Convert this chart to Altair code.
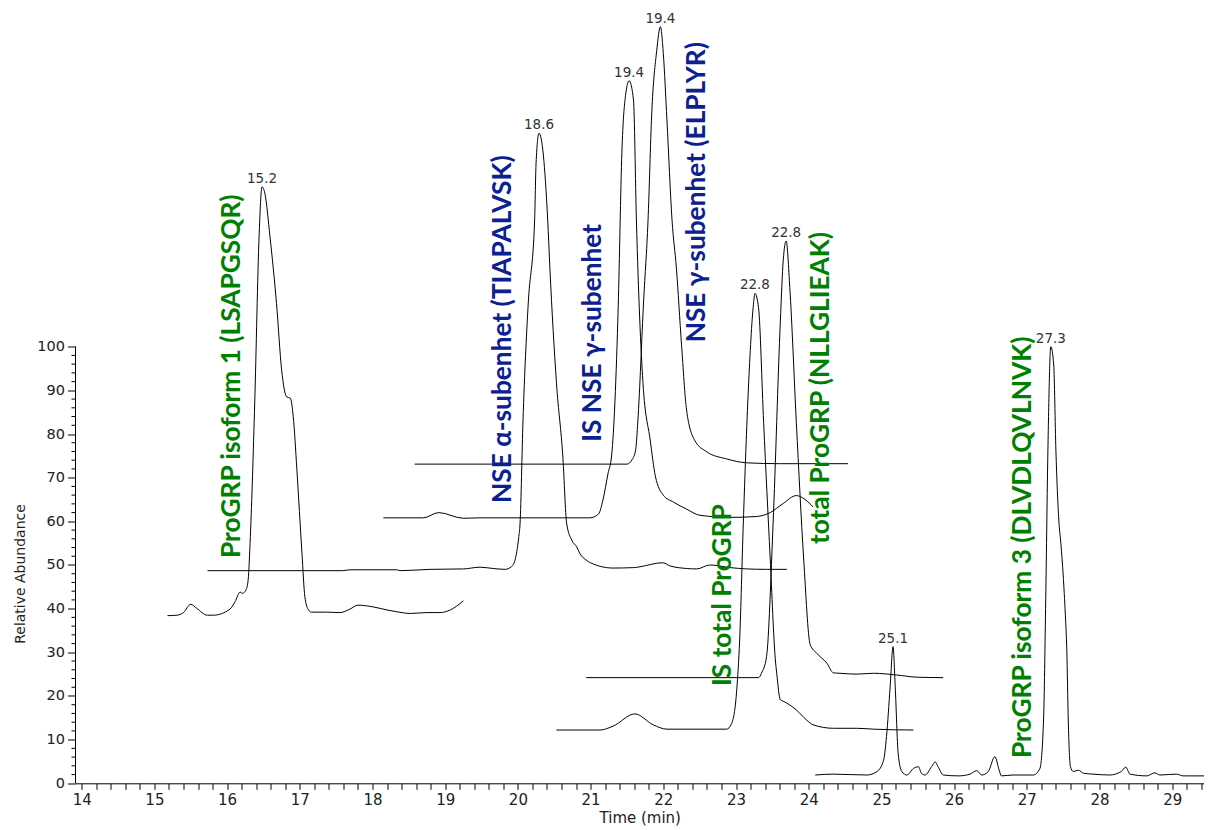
import altair as alt
import pandas as pd

# ---- trace data (time in min, relative abundance as displayed) ----
a_t = [15.18, 15.31, 15.40, 15.50, 15.58, 15.73, 15.81, 16.04, 16.11, 16.18, 16.21, 16.26, 16.29, 16.32,
       16.38, 16.44, 16.48, 16.52, 16.59, 16.68, 16.75, 16.82, 16.87, 16.91, 16.96, 17.03, 17.07, 17.12,
       17.16, 17.37, 17.55, 17.69, 17.80, 18.01, 18.20, 18.33, 18.52, 18.75, 18.93, 19.07, 19.25]
a_v = [38.4, 38.5, 39.1, 41.0, 40.1, 38.5, 38.5, 39.9, 41.6, 43.8, 43.5, 44.3, 46.6, 56.5,
       87.1, 125.2, 136.6, 135.1, 125.2, 109.9, 94.7, 88.5, 88.2, 84.0, 71.8, 52.7, 42.7, 39.7,
       39.2, 39.2, 39.1, 39.9, 40.8, 40.4, 39.7, 39.3, 38.9, 39.1, 39.1, 39.7, 41.8]

b_t = [15.73, 17.59, 17.69, 18.33, 18.38, 18.79, 19.25, 19.48, 19.66, 19.82, 19.91, 19.96, 20.01, 20.03,
       20.07, 20.14, 20.23, 20.25, 20.29, 20.35, 20.41, 20.44, 20.53, 20.62, 20.67, 20.74, 20.81, 20.85,
       20.95, 21.04, 21.13, 21.31, 21.59, 21.77, 21.91, 22.00, 22.09, 22.32, 22.46, 22.64, 22.92, 23.15,
       23.42, 23.70]
b_v = [48.7, 48.7, 48.9, 48.9, 48.7, 49.0, 49.1, 49.5, 49.2, 49.0, 49.6, 51.1, 56.2, 59.6,
       83.0, 109.3, 129.0, 142.1, 148.9, 143.9, 129.0, 118.0, 91.8, 74.3, 59.6, 55.7, 54.1, 52.7,
       51.0, 50.2, 49.7, 49.3, 49.4, 49.9, 50.4, 50.5, 49.8, 49.2, 49.1, 50.0, 49.4, 49.1,
       49.0, 49.0]

c_t = [18.15, 18.70, 18.91, 19.25, 19.48, 20.99, 21.11, 21.17, 21.24, 21.29, 21.38, 21.43, 21.48, 21.53,
       21.59, 21.63, 21.72, 21.82, 21.89, 22.00, 22.14, 22.32, 22.50, 22.92, 23.28, 23.47, 23.65, 23.83,
       23.95, 24.06]
c_v = [60.8, 60.8, 62.0, 60.7, 60.8, 60.8, 61.7, 64.9, 71.0, 75.2, 109.3, 144.4, 157.5, 160.9,
       156.5, 129.0, 91.8, 78.6, 70.4, 66.0, 64.4, 62.8, 61.4, 60.9, 61.1, 62.0, 64.1, 65.9,
       65.0, 63.3]

d_t = [18.58, 21.50, 21.57, 21.62, 21.65, 21.73, 21.79, 21.84, 21.91, 21.96, 22.00, 22.05, 22.12, 22.18,
       22.25, 22.32, 22.43, 22.60, 22.87, 23.15, 23.61, 24.54]
d_v = [73.1, 73.1, 74.1, 76.4, 83.0, 110.7, 129.0, 153.1, 167.9, 173.3, 167.2, 151.9, 129.0, 118.0,
       100.6, 85.5, 78.6, 75.9, 74.3, 73.4, 73.2, 73.2]

e_t = [20.53, 21.13, 21.31, 21.61, 21.86, 22.05, 22.87, 22.94, 23.01, 23.05, 23.10, 23.17, 23.24, 23.26,
       23.31, 23.38, 23.47, 23.54, 23.56, 23.61, 23.65, 23.83, 23.97, 24.06, 24.34, 24.66, 24.89, 25.44]
e_v = [12.2, 12.2, 13.1, 15.9, 13.4, 12.4, 12.4, 13.7, 21.4, 32.8, 59.4, 90.3, 109.7, 112.2,
       108.9, 82.6, 51.6, 28.5, 25.2, 19.1, 18.8, 16.8, 14.5, 13.4, 12.6, 12.6, 12.4, 12.2]

f_t = [20.94, 23.31, 23.35, 23.42, 23.51, 23.61, 23.65, 23.69, 23.74, 23.83, 23.93, 24.02, 24.11, 24.25,
       24.34, 24.43, 24.66, 24.89, 25.21, 25.49, 25.85]
f_v = [24.2, 24.2, 25.2, 29.0, 59.4, 105.9, 119.9, 124.2, 113.5, 82.6, 51.6, 31.8, 29.8, 27.5,
       25.3, 25.2, 25.0, 25.2, 24.8, 24.3, 24.2]

g_t = [24.09, 24.34, 24.80, 24.94, 25.03, 25.07, 25.12, 25.16, 25.19, 25.23, 25.28, 25.35, 25.44, 25.51,
       25.55, 25.60, 25.69, 25.74, 25.78, 25.85, 26.06, 26.22, 26.31, 26.38, 26.47, 26.56, 26.62, 26.65,
       26.81, 27.09, 27.18, 27.23, 27.26, 27.29, 27.33, 27.37, 27.40, 27.44, 27.47, 27.50, 27.53, 27.55,
       27.57, 27.60, 27.64, 27.71, 27.78, 27.91, 28.14, 28.30, 28.36, 28.42, 28.65, 28.76, 28.83, 29.06,
       29.15, 29.55]
g_v = [1.9, 2.1, 1.9, 2.7, 5.3, 10.7, 22.1, 31.3, 22.1, 6.9, 2.7, 1.9, 3.4, 3.8,
       2.3, 1.9, 3.8, 4.9, 3.8, 1.9, 1.7, 2.1, 2.9, 1.9, 2.7, 6.1, 3.0, 1.7,
       1.9, 1.9, 3.4, 14.5, 42.0, 76.3, 100.0, 95.8, 76.3, 60.3, 54.6, 47.7, 38.5, 30.5,
       14.5, 3.8, 2.7, 3.0, 2.3, 2.1, 1.9, 2.7, 3.7, 2.1, 1.7, 2.4, 1.9, 2.1,
       1.7, 1.7]

# ---- peak labels ----
peak_text = ["15.2", "18.6", "19.4", "19.4", "22.8", "22.8", "25.1", "27.3"]
peak_t = [16.48, 20.29, 21.53, 21.96, 23.26, 23.69, 25.16, 27.33]
peak_v = [136.6, 148.9, 160.9, 173.3, 112.2, 124.2, 31.3, 100.0]

# ---- compound annotations ----
ann_text = ["ProGRP isoform 1 (LSAPGSQR)", "NSE α-subenhet (TIAPALVSK)", "IS NSE γ-subenhet",
            "NSE γ-subenhet (ELPLYR)", "total ProGRP (NLLGLIEAK)", "IS total ProGRP",
            "ProGRP isoform 3 (DLVDLQVLNVK)"]
ann_group = ["ProGRP", "NSE", "NSE", "NSE", "ProGRP", "ProGRP", "ProGRP"]
ann_t = [16.07, 19.80, 21.03, 22.46, 24.17, 22.82, 26.95]
ann_v = [51.6, 64.2, 78.2, 101.0, 54.8, 22.3, 5.8]

# ---- axis ticks ----
x_ticks = [round(14 + 0.2 * i, 1) for i in range(78)]
y_major = list(range(0, 101, 10))
y_minor = [v for v in range(0, 101, 2) if v % 10 != 0]

traces = [("A", a_t, a_v), ("B", b_t, b_v), ("C", c_t, c_v), ("D", d_t, d_v),
          ("E", e_t, e_v), ("F", f_t, f_v), ("G", g_t, g_v)]
rows = []
for name, ts, vs in traces:
    for i, (t, v) in enumerate(zip(ts, vs)):
        rows.append({"trace": name, "t": t, "v": v, "i": i})
df = pd.DataFrame(rows)

peaks = pd.DataFrame({"t": peak_t, "v": peak_v, "label": peak_text})
anns = pd.DataFrame({"t": ann_t, "v": ann_v, "label": ann_text, "group": ann_group})
yline = pd.DataFrame({"v": [0], "v2": [100]})
yminor = pd.DataFrame({"v": y_minor})

FONT = "DejaVu Sans"
x_scale = alt.Scale(domain=[13.915, 29.437], nice=False, zero=False)
y_scale = alt.Scale(domain=[0, 177], nice=False, zero=False)

x_axis = alt.Axis(
    values=x_ticks,
    labelExpr="abs(datum.value - round(datum.value)) < 0.01 ? format(datum.value, 'd') : ''",
    tickSize=6, tickColor="black", domainColor="black", tickWidth=1, domainWidth=1,
    labelFont=FONT, labelFontSize=15, labelColor="#222", labelPadding=3,
    labelFlush=False, labelOverlap=False, grid=False,
    title="Time (min)", titleFont=FONT, titleFontSize=15, titleFontWeight="normal",
    titleColor="#222", titlePadding=3,
)
y_axis = alt.Axis(
    values=y_major,
    tickSize=8, tickColor="black", tickWidth=1, domain=False,
    labelFont=FONT, labelFontSize=14.5, labelColor="#222", labelPadding=3,
    labelOverlap=False, labelFlush=False, grid=False,
    title="Relative Abundance", titleFont=FONT, titleFontSize=14, titleFontWeight="normal",
    titleColor="#222", titleAngle=270, titleX=-55.5, titleY=563, titleAlign="center",
    titleBaseline="middle",
)

X = alt.X("t:Q", scale=x_scale, axis=x_axis)
Y = alt.Y("v:Q", scale=y_scale, axis=y_axis)

lines = alt.Chart(df).mark_line(color="black", strokeWidth=1, clip=True, interpolate="monotone").encode(
    x=X, y=Y, detail="trace:N", order="i:Q",
)

yrule = alt.Chart(yline).mark_rule(color="black", strokeWidth=1).encode(
    x=alt.value(0), y=Y, y2="v2:Q",
)

minor_ticks = alt.Chart(yminor).mark_rule(color="black", strokeWidth=1).encode(
    x=alt.value(-4), x2=alt.value(0), y=Y,
)

peak_labels = alt.Chart(peaks).mark_text(
    font=FONT, fontSize=13.5, color="#333", baseline="alphabetic", align="center", dy=-4
).encode(x=X, y=Y, text="label:N")

annotations = alt.Chart(anns).mark_text(
    font="Lato", fontWeight="bold", fontSize=26.3, angle=270, align="left", baseline="middle"
).encode(
    x=X, y=Y, text="label:N",
    color=alt.Color("group:N", scale=alt.Scale(domain=["NSE", "ProGRP"], range=["#0d2090", "#008000"]),
                    legend=None),
)

chart = alt.layer(lines, yrule, minor_ticks, peak_labels, annotations).properties(
    width=1128.5,
    height=772.8,
    autosize=alt.AutoSizeParams(type="none"),
    padding={"left": 67.5, "top": 2.5, "right": 0, "bottom": 46},
    background="white",
).configure_view(stroke=None)

chart.save("out.html", embed_options={"renderer": "svg", "actions": False})
